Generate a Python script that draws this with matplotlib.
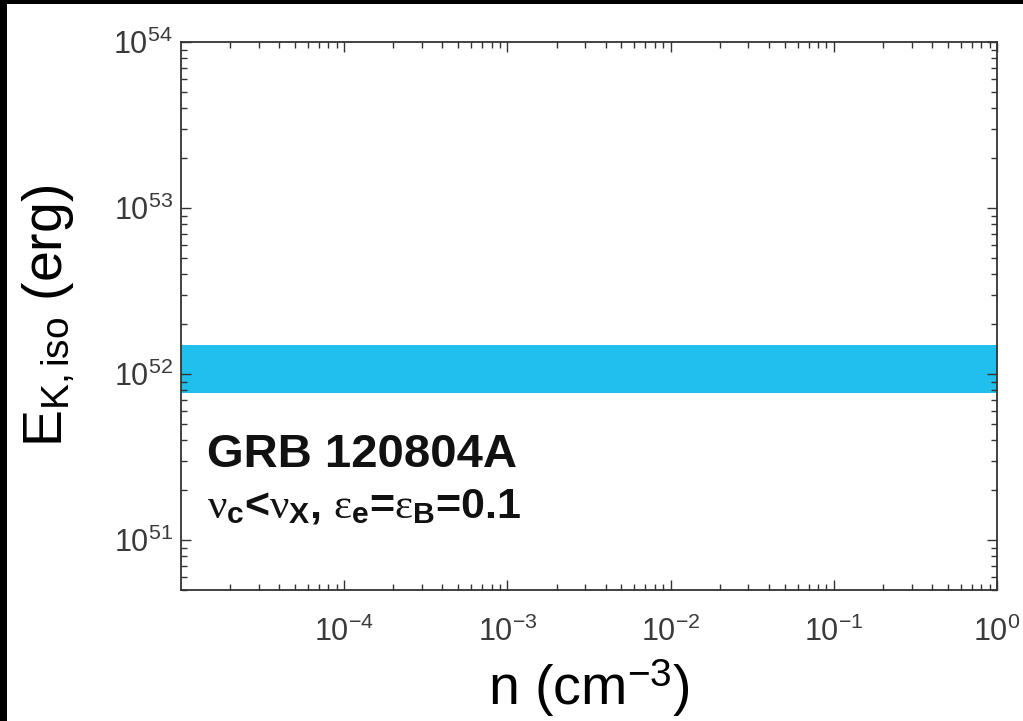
import numpy as np
import matplotlib
matplotlib.use('Agg')
import matplotlib.pyplot as plt
from matplotlib.patches import Rectangle
from matplotlib.ticker import LogLocator, NullFormatter, FixedLocator

plt.rcParams['font.family'] = ['Liberation Sans', 'DejaVu Sans']
plt.rcParams['mathtext.fontset'] = 'custom'
plt.rcParams['mathtext.rm'] = 'Liberation Sans'
plt.rcParams['mathtext.bf'] = 'Liberation Sans:bold'
plt.rcParams['mathtext.it'] = 'Liberation Serif'

# density range and allowed energy band
n_range = [1e-5, 1e0]
E_low = [7.7e51, 7.7e51]
E_high = [1.5e52, 1.5e52]
band_color = '#21BFEE'

x_ticks = [1e-4, 1e-3, 1e-2, 1e-1, 1e0]
y_ticks = [1e51, 1e52, 1e53, 1e54]

grb_name = 'GRB 120804A'
regime = r'$\nu_\mathbf{c}$<$\nu_\mathbf{X}$, $\varepsilon_\mathbf{e}$=$\varepsilon_\mathbf{B}$=0.1'

fig = plt.figure(figsize=(10.23, 7.21), dpi=100, facecolor='black')
# white page with a thin black margin on left/top
fig.patches.append(Rectangle((7/1023, 0), 1, (721-4)/721, transform=fig.transFigure,
                             facecolor='white', edgecolor='none', zorder=-10))

ax = fig.add_axes([181/1023, 1-590/721, (997-181)/1023, (590-42)/721])
ax.set_zorder(1)
ax.fill_between(n_range, E_low, E_high, color=band_color, linewidth=0)

ax.set_xscale('log')
ax.set_yscale('log')
ax.set_xlim(n_range)
ax.set_ylim(5e50, 1e54)

ax.xaxis.set_major_locator(FixedLocator(x_ticks))
ax.xaxis.set_minor_locator(LogLocator(base=10, subs=np.arange(2, 10), numticks=20))
ax.yaxis.set_major_locator(FixedLocator(y_ticks))
ax.yaxis.set_minor_locator(LogLocator(base=10, subs=np.arange(2, 10), numticks=20))
ax.xaxis.set_minor_formatter(NullFormatter())
ax.yaxis.set_minor_formatter(NullFormatter())

ax.tick_params(which='both', direction='in', top=True, right=True, labelsize=22,
               labelcolor='#3a3a3a', color='#333333', width=1.0)
ax.tick_params(which='major', length=7)
ax.tick_params(which='minor', length=4)
ax.tick_params(axis='x', pad=19)
ax.tick_params(axis='y', pad=6)
for s in ax.spines.values():
    s.set_linewidth(1.3)
    s.set_color('#333333')

ax.set_xlabel(r'n (cm$^{-3}$)', fontsize=40, labelpad=7)
ax.set_ylabel(r'E$_{\mathrm{K,iso}}$ (erg)', fontsize=40, labelpad=26)

ax.text(0.032, 0.224, grb_name, transform=ax.transAxes, fontsize=34,
        fontweight='bold', color='#111111')
ax.text(0.032, 0.133, regime, transform=ax.transAxes, fontsize=31,
        fontweight='bold', color='#111111')

fig.savefig('out.png', dpi=100, facecolor='black')
